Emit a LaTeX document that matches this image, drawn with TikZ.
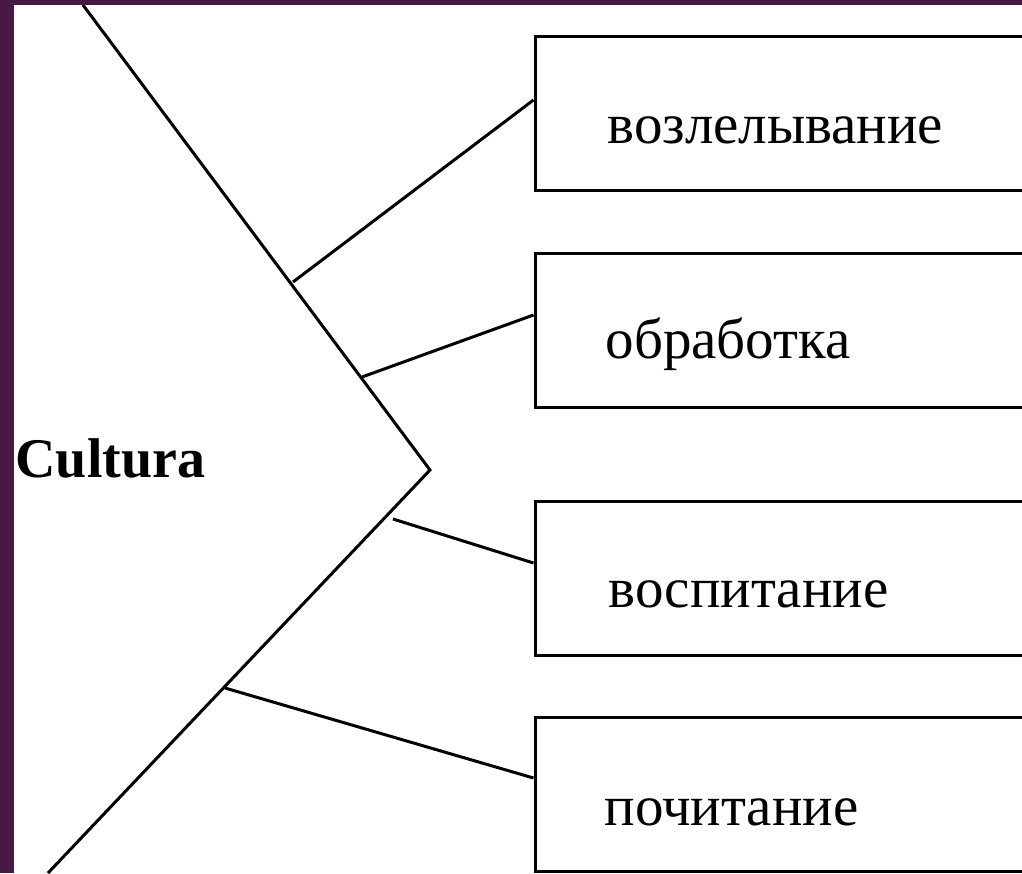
\documentclass[tikz,border=0pt]{standalone}
\usepackage{fontspec}
\setmainfont{Liberation Serif}
\definecolor{slidebg}{RGB}{72,24,68}
\begin{document}
\begin{tikzpicture}[x=1pt,y=-1pt,line width=3pt,
  wordbox/.style={draw,rectangle,minimum width=500pt,minimum height=154pt,inner sep=0pt},
  wordtext/.style={anchor=base west,inner sep=0pt,font=\fontsize{57}{60}\selectfont},
  titletext/.style={anchor=base west,inner sep=0pt,font=\fontsize{56}{60}\selectfont\bfseries}]
\useasboundingbox (0,0) rectangle (1022,873);
\fill[slidebg] (0,0) rectangle (1022,873);
\fill[white] (14,5) rectangle (1022,873);
\clip (14,5) rectangle (1022,873);
%
\node(cultura) at (14,477) [titletext] {Cultura};
%
\coordinate(top) at (83,5);
\coordinate(apex) at (430,470);
\coordinate(bot) at (48,873);
\draw(top) -- (apex) -- (bot);
%
\node(b1) at (785,113) [wordbox] {};
\node(t1) at (606,143) [wordtext] {возлелывание};
\coordinate(s1) at (293,282);
\draw(s1) -- ([yshift=13pt]b1.west);
%
\node(b2) at (785,330.5) [wordbox] {};
\node(t2) at (604,358) [wordtext] {обработка};
\coordinate(s2) at (362,377);
\draw(s2) -- ([yshift=15.5pt]b2.west);
%
\node(b3) at (785,578.5) [wordbox] {};
\node(t3) at (607,607) [wordtext] {воспитание};
\coordinate(s3) at (393,519);
\draw(s3) -- ([yshift=15.5pt]b3.west);
%
\node(b4) at (785,794.5) [wordbox] {};
\node(t4) at (603,825) [wordtext] {почитание};
\coordinate(s4) at (225,688);
\draw(s4) -- ([yshift=16.5pt]b4.west);
\end{tikzpicture}
\end{document}
